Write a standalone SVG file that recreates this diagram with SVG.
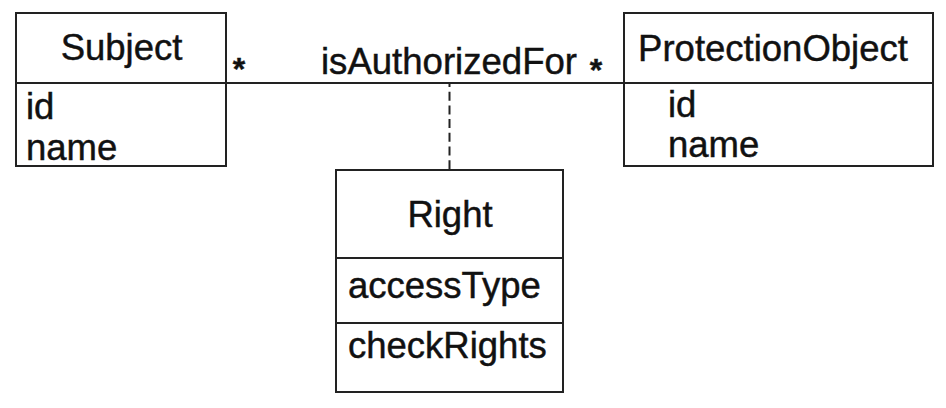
<svg xmlns="http://www.w3.org/2000/svg" width="946" height="408" viewBox="0 0 946 408">
<style>
.box{fill:#fff;stroke:#222;stroke-width:2}
.div{stroke:#222;stroke-width:2.2}
.t{font-family:"Liberation Sans",Arial,Helvetica,sans-serif;font-size:36.5px;fill:#111;stroke:#111;stroke-width:0.45}
.m{text-anchor:middle}
.star{font-weight:bold;font-size:32px}
.assoc{stroke:#222;stroke-width:2;fill:none}
.dash{stroke:#222;stroke-width:2;fill:none;stroke-dasharray:9 4.7;stroke-dashoffset:5}
</style>
<rect width="946" height="408" fill="#fff"/>
<g id="connectors">
<line class="assoc" x1="226" y1="83" x2="624" y2="83"/>
<line class="dash" x1="449.5" y1="83" x2="449.5" y2="170"/>
<text class="t m star" x="239" y="80">*</text>
<text class="t m star" x="596" y="81">*</text>
<text class="t" x="321" y="74" textLength="256" lengthAdjust="spacingAndGlyphs">isAuthorizedFor</text>
</g>
<g id="subject">
<rect class="box" x="16" y="13" width="210" height="153"/>
<line class="div" x1="16" y1="83" x2="226" y2="83"/>
<text class="t m" x="121.5" y="60">Subject</text>
<text class="t" x="26" y="118.5">id</text>
<text class="t" x="26" y="159.5">name</text>
</g>
<g id="protectionObject">
<rect class="box" x="624" y="13" width="309" height="153"/>
<line class="div" x1="624" y1="83" x2="933" y2="83"/>
<text class="t m" x="773" y="61">ProtectionObject</text>
<text class="t" x="668" y="117">id</text>
<text class="t" x="668" y="157">name</text>
</g>
<g id="right">
<rect class="box" x="336" y="170" width="227" height="222"/>
<line class="div" x1="336" y1="258" x2="563" y2="258"/>
<line class="div" x1="336" y1="323" x2="563" y2="323"/>
<text class="t m" x="450" y="227">Right</text>
<text class="t" x="348" y="298">accessType</text>
<text class="t" x="348" y="358">checkRights</text>
</g>
</svg>
